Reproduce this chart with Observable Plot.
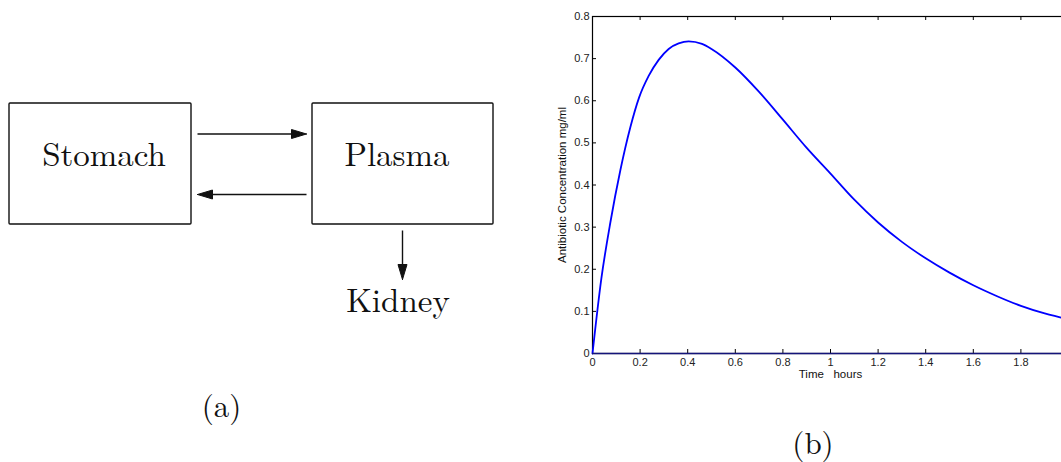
<!DOCTYPE html>
<html>
<head>
<meta charset="utf-8">
<script src="https://cdn.jsdelivr.net/npm/d3@7"></script>
<script src="https://cdn.jsdelivr.net/npm/@observablehq/plot@0.6"></script>
<style>
  html, body { margin: 0; padding: 0; background: white; overflow: hidden; width: 1061px; height: 462px; }
  #diagram { position: absolute; left: 0; top: 0; }
  #chart { position: absolute; left: 540px; top: 0; }
</style>
</head>
<body>
<div id="diagram"></div>
<div id="chart"></div>
<script>
// ---- Data: compartment diagram ----
const nodeNames = ["Stomach", "Plasma", "Kidney"];
const boxedNodes = ["Stomach", "Plasma"];
const linkFrom = ["Stomach", "Plasma", "Plasma"];
const linkTo = ["Plasma", "Stomach", "Kidney"];
const panelCaptions = ["(a)", "(b)"];

// ---- Data: concentration curve ----
const timeHours = [0, 0.037, 0.075, 0.117, 0.159, 0.196, 0.236, 0.278, 0.32, 0.362, 0.404, 0.46, 0.5, 0.6, 0.7, 0.8, 0.9, 1.0, 1.1, 1.2, 1.3, 1.4, 1.5, 1.6, 1.7, 1.8, 1.9, 2.0];
const concentration = [0, 0.177, 0.311, 0.435, 0.537, 0.608, 0.659, 0.697, 0.723, 0.736, 0.741, 0.735, 0.723, 0.679, 0.621, 0.555, 0.488, 0.427, 0.365, 0.311, 0.265, 0.226, 0.192, 0.162, 0.136, 0.113, 0.095, 0.081];
const xTicks = [0, 0.2, 0.4, 0.6, 0.8, 1, 1.2, 1.4, 1.6, 1.8, 2];
const xTickLabels = [0, 0.2, 0.4, 0.6, 0.8, 1, 1.2, 1.4, 1.6, 1.8];
const yTicks = [0, 0.1, 0.2, 0.3, 0.4, 0.5, 0.6, 0.7, 0.8];
const xLabel = "Time\u00a0\u00a0\u00a0hours";
const yLabel = "Antibiotic Concentration mg/ml";

// ---- Diagram layout (pixel geometry) ----
const boxGeom = {Stomach: {x1: 9, x2: 191, y1: 103, y2: 224}, Plasma: {x1: 312, x2: 493, y1: 103, y2: 224}};
const labelGeom = {Stomach: {x: 103.5, y: 165}, Plasma: {x: 396.5, y: 165}, Kidney: {x: 397.5, y: 311}};
const linkGeom = [
  {x1: 197, y1: 133.5, x2: 306, y2: 133.5},
  {x1: 306, y1: 194, x2: 197, y2: 194},
  {x1: 402, y1: 230, x2: 402, y2: 279}
];
const captionGeom = [{x: 221, y: 416}, {x: 812.5, y: 453}];

const boxes = boxedNodes.map(n => ({name: n, ...boxGeom[n]}));
const labels = nodeNames.map(n => ({name: n, ...labelGeom[n]}));
const headLen = 15, headHalf = 4.5;
const shafts = [], heads = [];
linkFrom.forEach((f, i) => {
  const g = linkGeom[i];
  const dx = g.x2 - g.x1, dy = g.y2 - g.y1, L = Math.hypot(dx, dy);
  const ux = dx / L, uy = dy / L, px = -uy, py = ux;
  const bx = g.x2 - ux * headLen, by = g.y2 - uy * headLen;
  shafts.push({x1: g.x1, y1: g.y1, x2: bx, y2: by, from: f, to: linkTo[i]});
  heads.push({k: i, x: g.x2, y: g.y2});
  heads.push({k: i, x: bx + px * headHalf, y: by + py * headHalf});
  heads.push({k: i, x: bx - px * headHalf, y: by - py * headHalf});
  heads.push({k: i, x: g.x2, y: g.y2});
});
const captions = panelCaptions.map((c, i) => ({text: c, ...captionGeom[i]}));

const serif = "'Latin Modern Roman', 'CMU Serif', 'Liberation Serif', 'DejaVu Serif', serif";

const diagram = Plot.plot({
  width: 1061, height: 462,
  margin: 0,
  x: {type: "linear", domain: [0, 1061], range: [0, 1061], axis: null},
  y: {type: "linear", domain: [0, 462], range: [0, 462], axis: null},
  style: {background: "transparent", maxWidth: "none", overflow: "visible"},
  marks: [
    Plot.rect(boxes, {x1: "x1", x2: "x2", y1: "y1", y2: "y2", fill: "none", stroke: "#111", strokeWidth: 1.4, rx: 1}),
    Plot.link(shafts, {x1: "x1", y1: "y1", x2: "x2", y2: "y2", stroke: "#111", strokeWidth: 1.4}),
    Plot.line(heads, {x: "x", y: "y", z: "k", fill: "#111", stroke: "#111", strokeWidth: 1, curve: "linear"}),
    Plot.text(labels, {x: "x", y: "y", text: "name", lineAnchor: "bottom", fontSize: 33, fontFamily: serif, fill: "#111"}),
    Plot.text(captions, {x: "x", y: "y", text: "text", lineAnchor: "bottom", fontSize: 31, fontFamily: serif, fill: "#111"})
  ]
});
document.getElementById("diagram").appendChild(diagram);

// ---- Chart ----
const conc = timeHours.map((t, i) => ({t, c: concentration[i]}));
const fmt = d => d === 0 ? "0" : String(d);
const plotW = 580, mL = 52, mR = 52, mT = 16, mB = 109, H = 462;
const innerW = plotW - mL - mR, innerH = H - mT - mB;
const tickLen = 4;

const chart = Plot.plot({
  width: plotW, height: H,
  marginLeft: mL, marginRight: mR, marginTop: mT, marginBottom: mB,
  style: {background: "transparent", maxWidth: "none", overflow: "visible", fontFamily: "'Liberation Sans', Arial, Helvetica, sans-serif", fontSize: "11px", color: "#222"},
  x: {domain: [0, 2]},
  y: {domain: [0, 0.8]},
  marks: [
    Plot.frame({stroke: "#000", strokeWidth: 1.2}),
    Plot.tickY(yTicks, {y: d => d, insetRight: innerW - tickLen, stroke: "#000"}),
    Plot.tickY(yTicks, {y: d => d, insetLeft: innerW - tickLen, stroke: "#000"}),
    Plot.tickX(xTicks, {x: d => d, insetTop: innerH - tickLen, stroke: "#000"}),
    Plot.tickX(xTicks, {x: d => d, insetBottom: innerH - tickLen, stroke: "#000"}),
    Plot.line(conc, {x: "t", y: "c", stroke: "#0000ff", strokeWidth: 1.8, curve: "monotone-x"}),
    Plot.ruleY([0], {stroke: "#14147a", strokeWidth: 1.6}),
    Plot.axisX(xTickLabels, {tickSize: 0, tickPadding: 5, tickFormat: fmt, label: null, fill: "#222"}),
    Plot.axisY(yTicks, {tickSize: 0, tickPadding: 3, tickFormat: fmt, label: null, fill: "#222"}),
    Plot.text([xLabel], {frameAnchor: "bottom", textAnchor: "middle", dy: 24, fontSize: 11.5, fill: "#111"}),
    Plot.text([yLabel], {frameAnchor: "left", textAnchor: "middle", rotate: -90, dx: -30, fontSize: 11.5, fill: "#111"})
  ]
});
document.getElementById("chart").appendChild(chart);
</script>
</body>
</html>
